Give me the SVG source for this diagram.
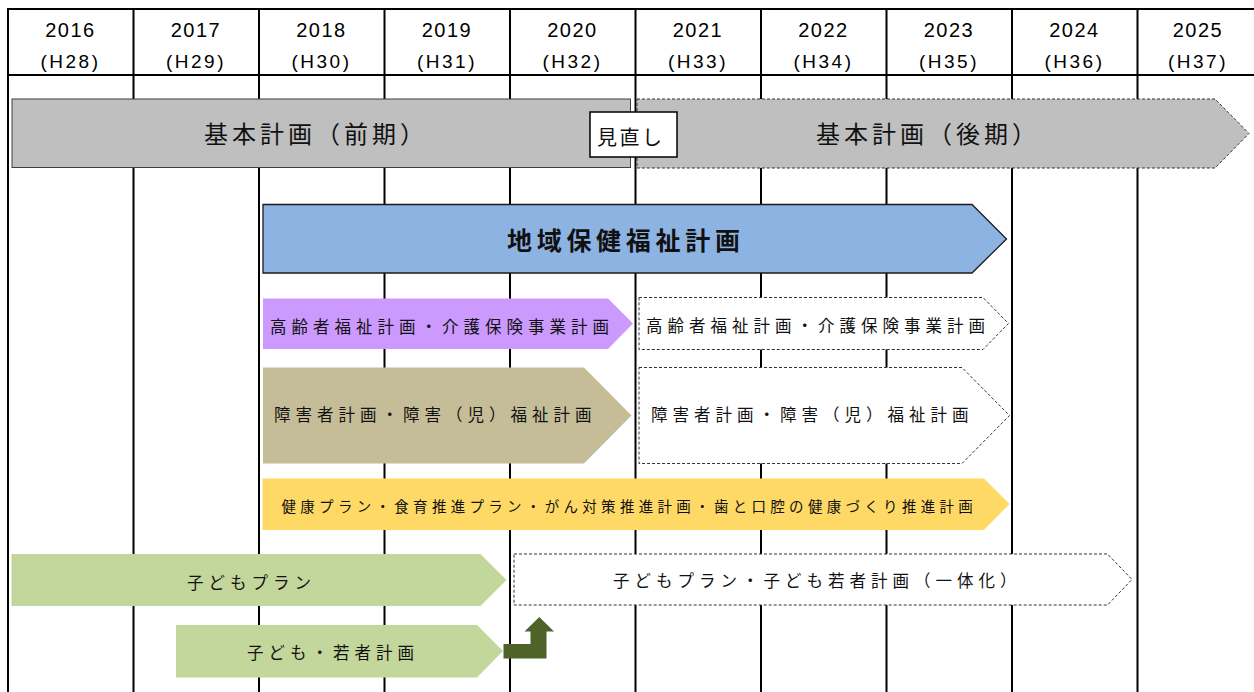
<svg xmlns="http://www.w3.org/2000/svg" width="1254" height="692" viewBox="0 0 1254 692">
<style>
.grid{stroke:#000;stroke-width:2;fill:none}
.yr{font-family:"Liberation Sans","Noto Sans CJK JP",sans-serif;font-size:20px;letter-spacing:1.5px;text-anchor:middle;fill:#000}
.hs{font-family:"Liberation Sans","Noto Sans CJK JP",sans-serif;font-size:19px;letter-spacing:2.5px;text-anchor:middle;fill:#000}
.jp{font-family:"Noto Sans CJK JP",sans-serif;fill:#111}
.big{font-size:24px;letter-spacing:4px}
.mid{font-size:16.5px;letter-spacing:5px}
.sm{font-size:14.5px;letter-spacing:4.3px}
.dash{fill:#fff;stroke:#333;stroke-width:1;stroke-dasharray:3 2}
</style>
<rect x="0" y="0" width="1254" height="692" fill="#fff"/>
<g id="grid">
<line class="grid" x1="7" y1="9" x2="1254" y2="9"/>
<line class="grid" x1="7" y1="75" x2="1254" y2="75"/>
<line class="grid" x1="8" y1="8" x2="8" y2="692"/>
<line class="grid" x1="133.5" y1="9" x2="133.5" y2="692"/>
<line class="grid" x1="259" y1="9" x2="259" y2="692"/>
<line class="grid" x1="384.5" y1="9" x2="384.5" y2="692"/>
<line class="grid" x1="510" y1="9" x2="510" y2="692"/>
<line class="grid" x1="635.5" y1="9" x2="635.5" y2="692"/>
<line class="grid" x1="761" y1="9" x2="761" y2="692"/>
<line class="grid" x1="886.5" y1="9" x2="886.5" y2="692"/>
<line class="grid" x1="1012" y1="9" x2="1012" y2="692"/>
<line class="grid" x1="1137.5" y1="9" x2="1137.5" y2="692"/>
</g>
<g id="header">
<text class="yr" x="70.5" y="37">2016</text><text class="hs" x="70.5" y="68">(H28)</text>
<text class="yr" x="196" y="37">2017</text><text class="hs" x="196" y="68">(H29)</text>
<text class="yr" x="321.5" y="37">2018</text><text class="hs" x="321.5" y="68">(H30)</text>
<text class="yr" x="447" y="37">2019</text><text class="hs" x="447" y="68">(H31)</text>
<text class="yr" x="572.5" y="37">2020</text><text class="hs" x="572.5" y="68">(H32)</text>
<text class="yr" x="698" y="37">2021</text><text class="hs" x="698" y="68">(H33)</text>
<text class="yr" x="823.5" y="37">2022</text><text class="hs" x="823.5" y="68">(H34)</text>
<text class="yr" x="949" y="37">2023</text><text class="hs" x="949" y="68">(H35)</text>
<text class="yr" x="1074.5" y="37">2024</text><text class="hs" x="1074.5" y="68">(H36)</text>
<text class="yr" x="1198" y="37">2025</text><text class="hs" x="1198" y="68">(H37)</text>
</g>
<g id="kihon-zenki">
<rect x="12" y="99" width="618.5" height="68.5" fill="#bfbfbf" stroke="#404040" stroke-width="1"/>
<text class="jp big" x="204" y="143">基本計画（前期）</text>
</g>
<g id="kihon-kouki">
<polygon points="637,99 1215,99 1249,133.5 1215,168 637,168" fill="#bfbfbf" stroke="#333" stroke-width="1" stroke-dasharray="3 2"/>
<text class="jp big" x="816" y="143">基本計画（後期）</text>
</g>
<g id="minaoshi">
<rect x="590" y="112" width="87" height="45" fill="#fff" stroke="#000" stroke-width="1.5"/>
<text class="jp" x="597" y="145" font-size="20" letter-spacing="2.5">見直し</text>
</g>
<g id="chiiki">
<polygon points="263,204.5 972,204.5 1006.5,239 972,273 263,273" fill="#8db3e2" stroke="#1a1a1a" stroke-width="1.3"/>
<text class="jp" x="507" y="250" font-size="25" font-weight="bold" letter-spacing="4.7">地域保健福祉計画</text>
</g>
<g id="koureisha-1">
<polygon points="263,298.5 608,298.5 633,323.5 608,349 263,349" fill="#cc99ff"/>
<text class="jp mid" x="270" y="332.5">高齢者福祉計画・介護保険事業計画</text>
</g>
<g id="koureisha-2">
<polygon class="dash" points="639,297.5 983,297.5 1008.5,323.5 983,349.5 639,349.5"/>
<text class="jp mid" x="646" y="332">高齢者福祉計画・介護保険事業計画</text>
</g>
<g id="shougai-1">
<polygon points="263,367.5 584,367.5 631.5,415.5 584,463.5 263,463.5" fill="#c4bd97"/>
<text class="jp mid" x="274" y="420.5">障害者計画・障害（児）福祉計画</text>
</g>
<g id="shougai-2">
<polygon class="dash" points="639,367.5 962,367.5 1009.5,415.5 962,463.5 639,463.5"/>
<text class="jp mid" x="651" y="420.5">障害者計画・障害（児）福祉計画</text>
</g>
<g id="kenkou">
<polygon points="262.5,478.5 984,478.5 1009.5,504 984,530 262.5,530" fill="#ffd966"/>
<text class="jp sm" x="281.5" y="512">健康プラン・食育推進プラン・がん対策推進計画・歯と口腔の健康づくり推進計画</text>
</g>
<g id="kodomo-plan">
<polygon points="11.5,554 480.5,554 506.5,580 480.5,606 11.5,606" fill="#c3d69b"/>
<text class="jp mid" x="187" y="589" letter-spacing="5.5">子どもプラン</text>
</g>
<g id="kodomo-wakamono">
<polygon points="176,625 477,625 503,651 477,677.5 176,677.5" fill="#c3d69b"/>
<text class="jp mid" x="247" y="659">子ども・若者計画</text>
</g>
<g id="kodomo-ittaika">
<polygon class="dash" points="514,554 1107.5,554 1132,579.5 1107.5,605 514,605"/>
<text class="jp mid" x="613" y="587">子どもプラン・子ども若者計画（一体化）</text>
</g>
<g id="connectors">
<path d="M503.5,644 H530.5 V631.5 H524.5 L539.3,617 L554,631.5 H546.5 V658.5 H503.5 Z" fill="#4f6228"/>
</g>
</svg>
